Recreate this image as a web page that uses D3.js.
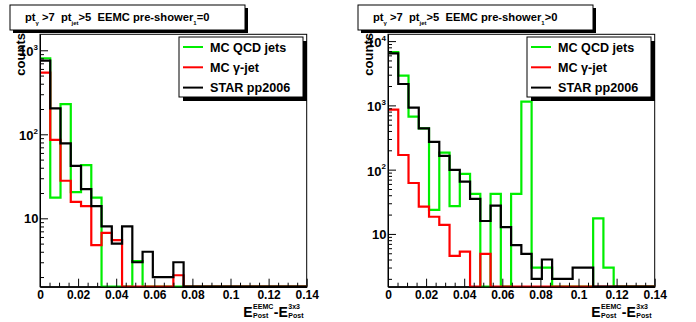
<!DOCTYPE html>
<html>
<head>
<meta charset="utf-8">
<script src="https://cdn.jsdelivr.net/npm/d3@7"></script>
<style>
  body { margin: 0; background: #fff; }
  text { font-family: "Liberation Sans", Arial, Helvetica, sans-serif; font-weight: bold; fill: #000; }
</style>
</head>
<body>
<div id="chart"></div>
<script>
// 26 equal bins on [0, 0.14]
var nBins = 26;
var xMax = 0.14;
var xTicks = [0, 0.02, 0.04, 0.06, 0.08, 0.1, 0.12, 0.14];

// pre-shower_1 = 0
var qcd0  = [804, 17.6, 229, 20.5, 43, 17.6, 0, 0, 0, 3.1, 0, 0, 0, 0, 0, 0, 0, 0, 0, 0, 0, 0, 0, 0, 0, 0];
var gam0  = [541, 86, 28, 15.7, 14, 4.8, 6.7, 5.5, 0, 0, 0, 0, 0, 2.1, 0, 0, 0, 0, 0, 0, 0, 0, 0, 0, 0, 0];
var star0 = [752, 204, 78, 42, 22.3, 14, 8, 5, 8, 3, 4, 2, 2, 3, 0, 0, 0, 0, 0, 0, 0, 0, 0, 0, 0, 0];

// pre-shower_1 > 0
var qcd1  = [6760, 2900, 667, 440, 23.6, 184, 27, 86, 42, 0, 42, 0, 42, 1143, 3, 3, 0, 0, 0, 0, 17.5, 3, 0, 0, 0, 0];
var gam1  = [860, 169, 62, 26.6, 18.5, 13.8, 4.55, 5.3, 0, 4.9, 0, 0, 0, 0, 0, 0, 0, 0, 0, 0, 0, 0, 0, 0, 0, 0];
var star1 = [6460, 2150, 921, 440, 270, 164, 99, 65, 35, 15.9, 27.6, 12.8, 6.7, 4.9, 2, 4, 2, 2, 3, 3, 0, 0, 0, 0, 0, 0];

var seriesNames = ["MC QCD jets", "MC \u03b3-jet", "STAR pp2006"];
var seriesColors = ["#00ee00", "#ff0000", "#000000"];

var W = 696, H = 322;
var svg = d3.select("#chart").append("svg")
    .attr("width", W)
    .attr("height", H);

svg.append("rect").attr("width", W).attr("height", H).attr("fill", "#fff");

var panels = [
  { x0: 0,   cut: "=0", hists: [qcd0, gam0, star0], yDomain: [1.535, 1550],  decades: [1, 2, 3] },
  { x0: 348, cut: ">0", hists: [qcd1, gam1, star1], yDomain: [1.51, 12760], decades: [1, 2, 3, 4] }
];

var plot = { left: 40, right: 306.7, top: 34.3, bottom: 286.7 };

panels.forEach(function(p) {
  var g = svg.append("g").attr("transform", "translate(" + p.x0 + ",0)");

  var x = d3.scaleLinear().domain([0, xMax]).range([plot.left, plot.right]);
  var y = d3.scaleLog().domain(p.yDomain).range([plot.bottom, plot.top]);
  var yMin = p.yDomain[0];
  var binW = xMax / nBins;

  // frame
  g.append("rect")
      .attr("x", plot.left).attr("y", plot.top)
      .attr("width", plot.right - plot.left).attr("height", plot.bottom - plot.top)
      .attr("fill", "none").attr("stroke", "#000").attr("stroke-width", 1);

  // histograms (drawn green, red, black so black ends on top)
  var line = d3.line()
      .x(function(d) { return x(d[0]); })
      .y(function(d) { return y(Math.max(d[1], yMin)); })
      .curve(d3.curveStepAfter);

  p.hists.forEach(function(h, k) {
    var pts = h.map(function(v, i) { return [i * binW, v]; });
    pts.push([xMax, h[h.length - 1]]);
    g.append("path")
        .attr("d", line(pts))
        .attr("fill", "none")
        .attr("stroke", seriesColors[k])
        .attr("stroke-width", 2.2);
  });

  // x axis: major + minor ticks pointing inward
  var xAxis = d3.axisBottom(x).tickValues(xTicks).tickSize(-8).tickSizeOuter(0).tickPadding(3.4)
      .tickFormat(function(d) { return d === 0 ? "0" : String(+d.toFixed(2)); });
  var gx = g.append("g").attr("transform", "translate(0," + plot.bottom + ")").call(xAxis);
  gx.selectAll("text").style("font-size", "12px").attr("fill", "#000");

  var xMinor = d3.range(0, xMax + 1e-9, 0.005).filter(function(v) {
    return Math.abs(v / 0.02 - Math.round(v / 0.02)) > 1e-6;
  });
  g.append("g").attr("transform", "translate(0," + plot.bottom + ")")
      .call(d3.axisBottom(x).tickValues(xMinor).tickSize(-4).tickSizeOuter(0).tickFormat(""));

  // y axis: decades + 2..9 minors
  var yMajor = p.decades.map(function(e) { return Math.pow(10, e); });
  var yMinor = [];
  for (var e = 0; e <= 4; e++) {
    for (var m = 2; m <= 9; m++) {
      var v = m * Math.pow(10, e);
      if (v >= p.yDomain[0] && v <= p.yDomain[1]) yMinor.push(v);
    }
  }
  g.append("g").attr("transform", "translate(" + plot.left + ",0)")
      .call(d3.axisLeft(y).tickValues(yMajor).tickSize(-8).tickSizeOuter(0).tickFormat(""));
  g.append("g").attr("transform", "translate(" + plot.left + ",0)")
      .call(d3.axisLeft(y).tickValues(yMinor).tickSize(-4).tickSizeOuter(0).tickFormat(""));
  g.selectAll(".domain").attr("stroke-width", 1);

  // decade labels: 10, 10^2, 10^3 ...
  p.decades.forEach(function(e) {
    var ty = y(Math.pow(10, e));
    if (e === 1) {
      g.append("text").attr("x", plot.left - 1.5).attr("y", ty + 4.6)
          .attr("text-anchor", "end").style("font-size", "13px").text("10");
    } else {
      var t = g.append("text").attr("x", plot.left - 2).attr("y", ty + 6)
          .attr("text-anchor", "end").style("font-size", "13px");
      t.append("tspan").text("10");
      t.append("tspan").attr("dy", -6.5).style("font-size", "8px").text(e);
    }
  });

  // y title
  g.append("text")
      .attr("transform", "translate(" + 24.5 + "," + 33 + ") rotate(-90)")
      .attr("text-anchor", "end")
      .style("font-size", "13px")
      .text("counts");

  // x title: E^{EEMC}_{Post} -E^{3x3}_{Post}
  var xt = g.append("g");
  var cx = 0;
  function putMain(s) {
    var t = xt.append("text").attr("x", cx).attr("y", 0).style("font-size", "14px").text(s);
    cx += t.node().getComputedTextLength();
  }
  function putSupSub(sup, sub) {
    var a = xt.append("text").attr("x", cx + 0.5).attr("y", -7.5).style("font-size", "7px").text(sup);
    var b = xt.append("text").attr("x", cx + 0.5).attr("y", 1.8).style("font-size", "7px").text(sub);
    cx += Math.max(a.node().getComputedTextLength(), b.node().getComputedTextLength()) + 1;
  }
  putMain("E");
  putSupSub("EEMC", "Post");
  putMain(" -E");
  putSupSub("3x3", "Post");
  xt.attr("transform", "translate(" + (304 - cx) + "," + 316.5 + ")");

  // legend with shadow
  var lg = { x: 179, y: 37, w: 124, h: 60 };
  g.append("rect")
      .attr("x", lg.x + 4).attr("y", lg.y + 4).attr("width", lg.w).attr("height", lg.h)
      .attr("fill", "#000");
  g.append("rect")
      .attr("x", lg.x).attr("y", lg.y).attr("width", lg.w).attr("height", lg.h)
      .attr("fill", "#fff").attr("stroke", "#000").attr("stroke-width", 1);
  seriesNames.forEach(function(name, k) {
    var ry = lg.y + 10 + k * 20.3;
    g.append("line")
        .attr("x1", lg.x + 4).attr("x2", lg.x + 24)
        .attr("y1", ry).attr("y2", ry)
        .attr("stroke", seriesColors[k]).attr("stroke-width", 2);
    g.append("text").attr("x", lg.x + 31).attr("y", ry + 4.6)
        .style("font-size", "12.6px").text(name);
  });

  // title box with shadow
  var tb = { x: 10, y: 5, w: 235, h: 25 };
  g.append("rect")
      .attr("x", tb.x + 3).attr("y", tb.y + 3).attr("width", tb.w).attr("height", tb.h)
      .attr("fill", "#000");
  g.append("rect")
      .attr("x", tb.x).attr("y", tb.y).attr("width", tb.w).attr("height", tb.h)
      .attr("fill", "#fff").attr("stroke", "#000").attr("stroke-width", 1);
  var tt = g.append("text").attr("x", 25).attr("y", 21)
      .attr("xml:space", "preserve").style("font-size", "11.2px");
  tt.append("tspan").text("pt");
  tt.append("tspan").attr("dy", 4).style("font-size", "6px").text("\u03b3");
  tt.append("tspan").attr("dy", -4).text(" >7  pt");
  tt.append("tspan").attr("dy", 4).style("font-size", "6px").text("jet");
  tt.append("tspan").attr("dy", -4).text(">5  EEMC pre-shower");
  tt.append("tspan").attr("dy", 4).style("font-size", "6px").text("1");
  tt.append("tspan").attr("dy", -4).text(p.cut);
});
</script>
</body>
</html>
